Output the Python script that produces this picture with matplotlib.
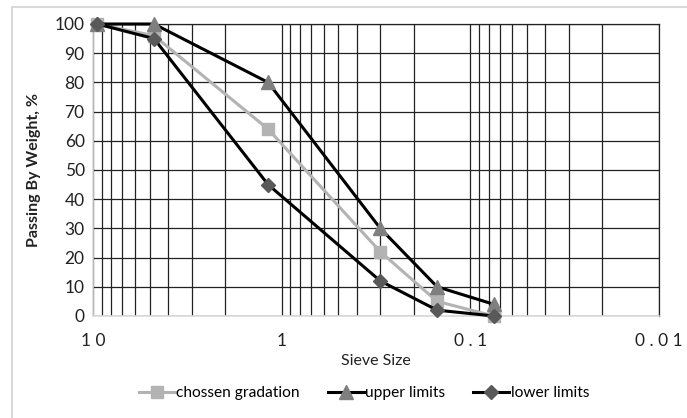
import numpy as np
import matplotlib
matplotlib.use("Agg")
import matplotlib.pyplot as plt
from matplotlib.ticker import LogLocator, NullFormatter, FixedLocator, FixedFormatter
from matplotlib.patches import Rectangle

plt.rcParams['font.family'] = ['Lato', 'DejaVu Sans']

sieve = [9.5, 4.75, 1.18, 0.3, 0.15, 0.075]
chosen = [100, 96, 64, 22, 5, 0]
upper = [100, 100, 80, 30, 10, 4]
lower = [100, 95, 45, 12, 2, 0]

x_ticks = [10, 1, 0.1, 0.01]
x_labels = ["1 0", "1", "0 . 1", "0 . 0 1"]
y_ticks = list(range(0, 101, 10))

fig = plt.figure(figsize=(6.87, 4.18), dpi=100)
fig.patches.append(Rectangle((12/687, -0.1), 1.0, 1 - 7/418 + 0.1, transform=fig.transFigure,
                             fill=False, edgecolor='#d9d9d9', linewidth=1.5))

ax = fig.add_axes([93/687, 1 - 316/418, (659 - 93)/687, (316 - 24)/418])
ax.set_xscale('log')
ax.set_xlim(10, 0.01)
ax.set_ylim(0, 100)

ax.xaxis.set_major_locator(FixedLocator(x_ticks))
ax.xaxis.set_major_formatter(FixedFormatter(x_labels))
ax.xaxis.set_minor_locator(LogLocator(base=10, subs=np.arange(2, 10)))
ax.xaxis.set_minor_formatter(NullFormatter())
ax.set_yticks(y_ticks)

ax.grid(True, which='both', axis='x', color='#222222', linewidth=0.9)
ax.grid(True, which='major', axis='y', color='#222222', linewidth=0.9)
ax.tick_params(which='both', length=0)
ax.tick_params(axis='x', pad=12, labelsize=12.5, colors='#222222')
ax.tick_params(axis='y', pad=6, labelsize=12.5, colors='#222222')

for s in ['top', 'right']:
    ax.spines[s].set_color('#222222')
    ax.spines[s].set_linewidth(0.9)
for s in ['left', 'bottom']:
    ax.spines[s].set_color('#d9d9d9')
    ax.spines[s].set_linewidth(1.2)

ax.plot(sieve, chosen, color='#b3b3b3', linewidth=2.2, marker='s', markersize=9,
        markerfacecolor='#b3b3b3', markeredgecolor='#b3b3b3', label='chossen gradation',
        zorder=3, clip_on=False)
ax.plot(sieve, upper, color='black', linewidth=2.2, marker='^', markersize=10,
        markerfacecolor='#7f7f7f', markeredgecolor='#7f7f7f', label='upper limits',
        zorder=4, clip_on=False)
ax.plot(sieve, lower, color='black', linewidth=2.2, marker='D', markersize=7.5,
        markerfacecolor='#595959', markeredgecolor='#595959', label='lower limits',
        zorder=5, clip_on=False)

ax.set_xlabel('Sieve Size', fontsize=11.5, color='#222222', labelpad=4)
ax.set_ylabel('Passing By Weight, %', fontsize=11.5, fontweight='bold', color='#222222', labelpad=10)

fig.legend(loc='center', bbox_to_anchor=(0.53, 1 - 393/418), ncol=3, frameon=False,
           fontsize=11.2, handlelength=2.3, columnspacing=1.8, handletextpad=0.1)

fig.savefig('out.png', dpi=100)
